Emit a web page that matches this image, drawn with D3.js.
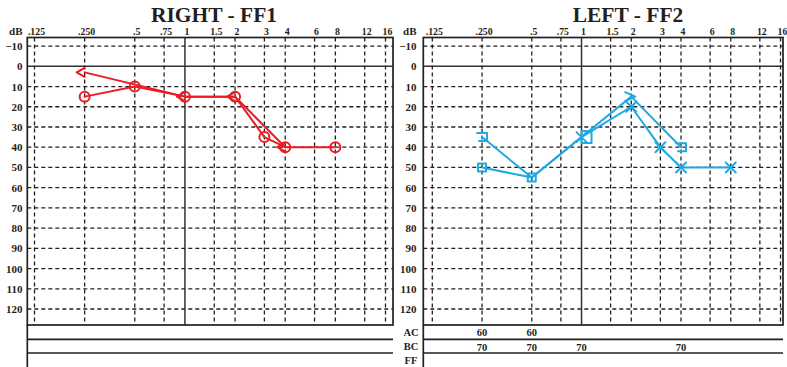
<!DOCTYPE html>
<html lang="en">
<meta charset="utf-8">
<style>
  body{ margin:0; background:#fff; }
  text{ font-family: "Liberation Serif", "Times New Roman", serif; font-weight: bold; fill:#231f20; }
  .grid{ stroke:#231f20; stroke-width:1.3; stroke-dasharray:4 3; fill:none; }
  .solid{ stroke:#333; stroke-width:1.5; }
  .frame{ stroke:#231f20; stroke-width:1.7; fill:none; }
  .mark{ fill:none; stroke-width:2; stroke-linejoin:round; stroke-linecap:round; }
</style>
<body>
<svg width="787" height="367"></svg>

<script src="https://d3js.org/d3.v7.min.js"></script>
<script>
  // tick labels
  let freqTicks = [0.125, 0.25, 0.5, 0.75, 1, 1.5, 2, 3, 4, 6, 8, 12, 16]
  let freqLabels = ['.125', '.250', '.5', '.75', '1', '1.5', '2', '3', '4', '6', '8', '12', '16']
  let dbTicks = [-10, 0, 10, 20, 30, 40, 50, 60, 70, 80, 90, 100, 110, 120]

  // right ear (red)
  let rightAcFreq = [0.25, 0.5, 1, 2, 3, 4, 8]
  let rightAcDb = [15, 10, 15, 15, 35, 40, 40]
  let rightBcFreq = [0.25, 1, 2, 4]
  let rightBcDb = [3, 15, 15, 40]

  // left ear (blue)
  let leftAcFreq = [0.25, 0.5, 1, 2, 3, 4, 8]
  let leftAcDb = [50, 55, 35, 20, 40, 50, 50]
  let leftAcSym = ['square', 'square', 'x', 'x', 'x', 'x', 'x']
  let leftBcFreq = [0.25, 0.5, 1, 2, 4]
  let leftBcDb = [35, 55, 35, 15, 40]
  let leftBcSym = [']', '', 'box', '>', ']']

  // masking rows (left ear)
  let acMaskFreq = [0.25, 0.5]
  let acMaskDb = [60, 60]
  let bcMaskFreq = [0.25, 0.5, 1, 4]
  let bcMaskDb = [70, 70, 70, 70]

  let red = '#ec1c24'
  let blue = '#1fa9e1'

  let plotTop = 37.5, plotBottom = 325, rowLines = [339.3, 353], pageBottom = 367

  let y = d3.scaleLinear().domain([0, 120]).range([66.3, 309])

  let panels = [
    {title: 'RIGHT - FF1', left: 27.3, right: 393, r0: 34.5, r1: 385.5, labelX: 22.5, titleX: 214},
    {title: 'LEFT - FF2', left: 423.3, right: 783, r0: 432.3, r1: 780.5, labelX: 416.5, titleX: 628}
  ]

  let svg = d3.select('svg')

  function symbolPath(type, cx, cy) {
    switch (type) {
      case '<': return `M${cx},${cy - 4.5}L${cx - 8},${cy}L${cx},${cy + 4.5}`
      case '>': return `M${cx - 6},${cy - 4.5}L${cx + 4},${cy}L${cx - 6},${cy + 4.5}`
      case ']': return `M${cx - 5},${cy - 4}L${cx + 5},${cy - 4}L${cx + 5},${cy + 4}L${cx - 3},${cy + 4}`
      case 'x': return `M${cx - 5},${cy - 5}L${cx + 5},${cy + 5}M${cx - 5},${cy + 5}L${cx + 5},${cy - 5}`
      case 'square': return `M${cx - 4},${cy - 4}h8v8h-8Z`
      case 'box': return `M${cx},${cy - 6}h10v12h-10Z`
      default: return ''
    }
  }

  panels.forEach((p, pi) => {
    let x = d3.scaleLog().base(2).domain([0.125, 16]).range([p.r0, p.r1])
    let g = svg.append('g')

    // title
    g.append('text')
      .attr('x', p.titleX).attr('y', 21.5)
      .attr('text-anchor', 'middle')
      .attr('font-size', 21.5)
      .text(p.title)

    // grid
    g.append('g').selectAll('line')
      .data(dbTicks).enter()
      .append('line')
      .attr('class', d => d === 0 ? 'solid' : 'grid')
      .attr('x1', p.left).attr('x2', p.right)
      .attr('y1', d => y(d)).attr('y2', d => y(d))

    g.append('g').selectAll('line')
      .data(freqTicks).enter()
      .append('line')
      .attr('class', d => d === 1 ? 'solid' : 'grid')
      .attr('x1', d => x(d)).attr('x2', d => x(d))
      .attr('y1', plotTop).attr('y2', plotBottom)

    // frame
    g.append('rect')
      .attr('class', 'frame')
      .attr('x', p.left).attr('y', plotTop)
      .attr('width', p.right - p.left).attr('height', plotBottom - plotTop)
    g.append('line').attr('class', 'frame')
      .attr('x1', p.left).attr('x2', p.left)
      .attr('y1', plotBottom).attr('y2', pageBottom)
    g.append('g').selectAll('line')
      .data(rowLines).enter()
      .append('line')
      .attr('class', 'frame')
      .attr('x1', p.left).attr('x2', p.right)
      .attr('y1', d => d).attr('y2', d => d)

    // axes
    let xAxis = g.append('g')
      .attr('transform', 'translate(1.5,34.5)')
      .call(d3.axisTop(x).tickValues(freqTicks).tickFormat((d, i) => freqLabels[i]).tickSize(0).tickPadding(0))
    xAxis.select('.domain').remove()
    xAxis.attr('font-family', null).attr('font-size', 9.8)

    let yAxis = g.append('g')
      .attr('transform', `translate(${p.labelX},0)`)
      .call(d3.axisLeft(y).tickValues(dbTicks).tickSize(0).tickPadding(0))
    yAxis.select('.domain').remove()
    yAxis.attr('font-family', null).attr('font-size', 11)

    g.append('text')
      .attr('x', p.labelX).attr('y', 34.5)
      .attr('text-anchor', 'end')
      .attr('font-size', 11)
      .text('dB')

    let line = d3.line().x(d => x(d.f)).y(d => y(d.v))

    if (pi === 0) {
      let ac = rightAcFreq.map((f, i) => ({f: f, v: rightAcDb[i]}))
      let bc = rightBcFreq.map((f, i) => ({f: f, v: rightBcDb[i]}))

      g.append('path').attr('class', 'mark').attr('stroke', red).attr('d', line(bc))
      g.append('path').attr('class', 'mark').attr('stroke', red).attr('d', line(ac))

      g.append('g').selectAll('path')
        .data(bc).enter()
        .append('path')
        .attr('class', 'mark').attr('stroke', red)
        .attr('d', d => symbolPath('<', x(d.f), y(d.v)))

      g.append('g').selectAll('circle')
        .data(ac).enter()
        .append('circle')
        .attr('class', 'mark').attr('stroke', red)
        .attr('cx', d => x(d.f)).attr('cy', d => y(d.v)).attr('r', 5)
    } else {
      let ac = leftAcFreq.map((f, i) => ({f: f, v: leftAcDb[i], s: leftAcSym[i]}))
      let bc = leftBcFreq.map((f, i) => ({f: f, v: leftBcDb[i], s: leftBcSym[i]}))

      g.append('path').attr('class', 'mark').attr('stroke', blue).attr('d', line(bc))
      g.append('path').attr('class', 'mark').attr('stroke', blue).attr('d', line(ac))

      g.append('g').selectAll('path')
        .data(bc.concat(ac)).enter()
        .append('path')
        .attr('class', 'mark').attr('stroke', blue)
        .attr('d', d => symbolPath(d.s, x(d.f), y(d.v)))

      // row labels and masking values
      let rowY = [335.5, 350, 363.5]
      g.append('g').selectAll('text')
        .data(['AC', 'BC', 'FF']).enter()
        .append('text')
        .attr('x', p.labelX - 5.5).attr('y', (d, i) => rowY[i])
        .attr('text-anchor', 'middle')
        .attr('font-size', 10.5)
        .text(d => d)

      g.append('g').selectAll('text')
        .data(acMaskFreq).enter()
        .append('text')
        .attr('x', d => x(d)).attr('y', rowY[0] + 0.5)
        .attr('text-anchor', 'middle')
        .attr('font-size', 10.5)
        .text((d, i) => acMaskDb[i])

      g.append('g').selectAll('text')
        .data(bcMaskFreq).enter()
        .append('text')
        .attr('x', d => x(d)).attr('y', rowY[1] + 1)
        .attr('text-anchor', 'middle')
        .attr('font-size', 10.5)
        .text((d, i) => bcMaskDb[i])
    }
  })
</script>
</body>
</html>
